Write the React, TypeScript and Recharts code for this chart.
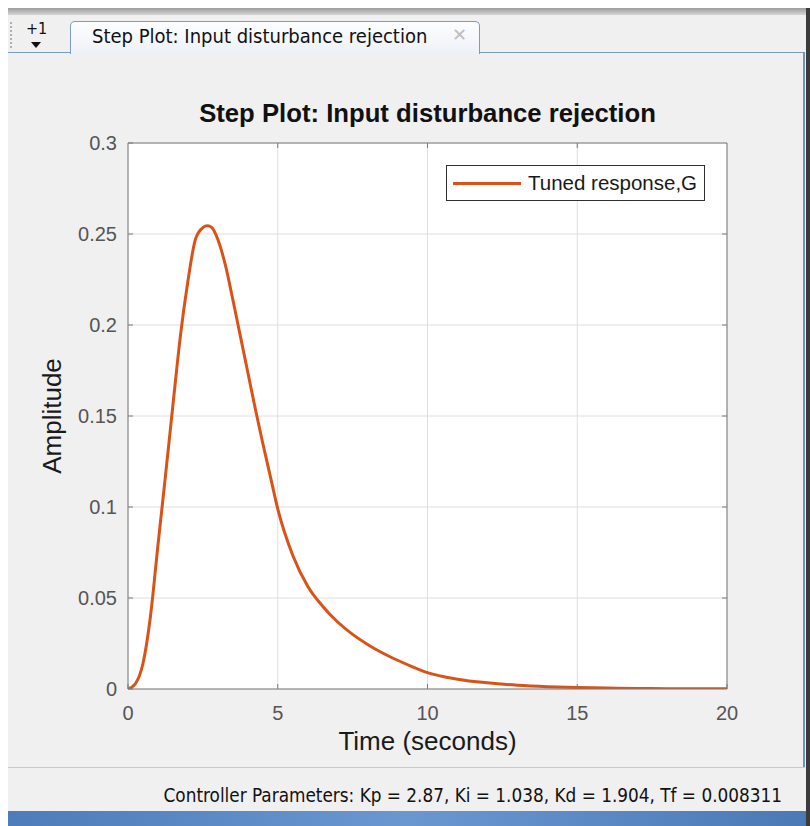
import React from 'react';
import { LineChart, Line, XAxis, YAxis, CartesianGrid, Legend, ReferenceLine } from 'recharts';

// step response
const timeValues = [
  0, 0.25, 0.5, 0.75, 1.0, 1.25, 1.5, 1.75, 2.0, 2.25, 2.5, 2.65, 2.8, 3.0, 3.25, 3.5, 3.75, 4.0,
  4.25, 4.5, 4.75, 5.0, 5.5, 6.0, 6.5, 7.0, 7.5, 8.0, 8.5, 9.0, 9.5, 10, 11, 12, 13, 14, 15, 16,
  17, 18, 19, 20,
];
const amplitudeValues = [
  0, 0.003, 0.014, 0.04, 0.079, 0.117, 0.156, 0.194, 0.224, 0.247, 0.2535, 0.2545, 0.2535, 0.247,
  0.233, 0.214, 0.194, 0.174, 0.154, 0.135, 0.117, 0.099, 0.0735, 0.0565, 0.0455, 0.0368, 0.03,
  0.0245, 0.0198, 0.0158, 0.0122, 0.009, 0.0054, 0.0034, 0.0021, 0.0013, 0.0008, 0.0005, 0.0003,
  0.0002, 0.0001, 0.0001,
];
const xTicks = [0, 5, 10, 15, 20];
const yTicks = [0, 0.05, 0.1, 0.15, 0.2, 0.25, 0.3];

const seriesName = 'Tuned response,G';
const chartTitle = 'Step Plot: Input disturbance rejection';
const statusText = 'Controller Parameters: Kp = 2.87, Ki = 1.038, Kd = 1.904, Tf = 0.008311';

const data = timeValues.map((t, i) => ({ t, y: amplitudeValues[i] }));

const X_MIN = 0;
const X_MAX = 20;
const Y_MIN = 0;
const Y_MAX = 0.3;

const ORANGE = '#d95319';
const AXIS = '#7a7a7a';
const GRID = '#dedede';
const FONT = '"Liberation Sans", Arial, sans-serif';
const NARROW = '"Liberation Sans Narrow", "DejaVu Sans Condensed", sans-serif';

const AmpLabel = (props: any) => {
  const vb = props.viewBox || { y: 143, height: 546 };
  const cx = 52;
  const cy = vb.y + vb.height / 2;
  return (
    <text
      x={cx}
      y={cy}
      transform={`rotate(-90 ${cx} ${cy})`}
      textAnchor="middle"
      dominantBaseline="central"
      fontSize={26}
      fontFamily={FONT}
      fill="#1a1a1a"
    >
      Amplitude
    </text>
  );
};

const LegendBox = () => (
  <div
    style={{
      width: 257,
      height: 34,
      border: '1px solid #303030',
      background: '#fff',
      display: 'flex',
      alignItems: 'center',
      fontFamily: FONT,
      fontSize: 20.5,
      color: '#1a1a1a',
    }}
  >
    <span style={{ display: 'inline-block', width: 68, height: 3, background: ORANGE, marginLeft: 6 }} />
    <span style={{ marginLeft: 7 }}>{seriesName}</span>
  </div>
);

// inward tick length in data units (about 5px)
const yTickLen = (Y_MAX - Y_MIN) * 5 / 546;
const xTickLen = (X_MAX - X_MIN) * 5 / 599;

const App: React.FC = () => {
  return (
    <div style={{ position: 'absolute', left: 0, top: 0, width: 810, height: 826, background: '#f0f0f0', overflow: 'hidden' }}>
      {/* window frame */}
      <div style={{ position: 'absolute', left: 0, top: 0, width: 810, height: 8, background: '#fff' }} />
      <div style={{ position: 'absolute', left: 0, top: 8, width: 8, height: 818, background: '#fff' }} />
      <div style={{ position: 'absolute', left: 8, top: 8, width: 798, height: 7, background: 'linear-gradient(#9c9c9c, #d6d6d6)' }} />
      <div style={{ position: 'absolute', left: 806, top: 8, width: 4, height: 818, background: '#3b3b3b' }} />
      <div style={{ position: 'absolute', left: 10, top: 22, width: 2, height: 26, borderLeft: '2px dotted #b0b0b0' }} />
      <div style={{ position: 'absolute', left: 26, top: 19, fontFamily: NARROW, fontSize: 16, color: '#111' }}>+1</div>
      <div style={{ position: 'absolute', left: 31, top: 42, width: 0, height: 0, borderLeft: '5px solid transparent', borderRight: '5px solid transparent', borderTop: '6px solid #111' }} />
      {/* tab */}
      <div
        style={{
          position: 'absolute',
          left: 70,
          top: 21,
          width: 408,
          height: 32,
          border: '1px solid #7b9bc4',
          borderBottom: 'none',
          borderRadius: '5px 5px 0 0',
          background: 'linear-gradient(#fcfdfe, #edf2f8)',
        }}
      />
      <div style={{ position: 'absolute', left: 92, top: 24, fontFamily: NARROW, fontSize: 20, color: '#111', whiteSpace: 'nowrap' }}>
        {chartTitle}
      </div>
      <div style={{ position: 'absolute', left: 452, top: 24, fontFamily: FONT, fontSize: 18, color: '#bdbdbd' }}>✕</div>
      <div style={{ position: 'absolute', left: 8, top: 52, width: 62, height: 1, background: '#7b9bc4' }} />
      <div style={{ position: 'absolute', left: 479, top: 52, width: 326, height: 1, background: '#7b9bc4' }} />
      <div style={{ position: 'absolute', left: 803, top: 52, width: 2, height: 716, background: '#6f94c4' }} />
      <div style={{ position: 'absolute', left: 8, top: 767, width: 797, height: 1, background: '#c8c8c8' }} />
      {/* status bar */}
      <div style={{ position: 'absolute', right: 28, top: 785, fontFamily: NARROW, fontSize: 18.8, color: '#111', whiteSpace: 'nowrap' }}>
        {statusText}
      </div>
      <div style={{ position: 'absolute', left: 8, top: 811, width: 798, height: 15, background: 'linear-gradient(90deg, #4d7cba, #6a97d0 50%, #4b79b6)' }} />
      {/* plot title */}
      <div
        style={{
          position: 'absolute',
          left: 128,
          top: 99,
          width: 599,
          textAlign: 'center',
          fontFamily: FONT,
          fontWeight: 'bold',
          fontSize: 25.7,
          color: '#111',
        }}
      >
        {chartTitle}
      </div>
      <div style={{ position: 'absolute', left: 0, top: 0 }}>
        <LineChart width={810} height={826} data={data} margin={{ top: 143, right: 83, bottom: 107, left: 68 }}>
          <CartesianGrid stroke={GRID} strokeWidth={1} verticalValues={xTicks} horizontalValues={yTicks} fill="#fff" />
          <XAxis
            dataKey="t"
            type="number"
            domain={[X_MIN, X_MAX]}
            ticks={xTicks}
            height={30}
            tickSize={-5}
            tickMargin={22}
            stroke={AXIS}
            tickLine={{ stroke: AXIS }}
            tick={{ fill: '#555', fontSize: 20, fontFamily: FONT }}
            label={{ value: 'Time (seconds)', position: 'bottom', offset: 13, fill: '#1a1a1a', fontSize: 26, fontFamily: FONT }}
          />
          <YAxis
            type="number"
            domain={[Y_MIN, Y_MAX]}
            ticks={yTicks}
            width={60}
            tickSize={-5}
            tickMargin={16}
            allowDataOverflow
            stroke={AXIS}
            tickLine={{ stroke: AXIS }}
            tick={{ fill: '#555', fontSize: 20, fontFamily: FONT }}
            tickFormatter={(v: number) => String(v)}
            label={<AmpLabel />}
          />
          {/* box: top and right edges, with inward ticks */}
          <ReferenceLine y={Y_MAX} stroke={AXIS} strokeWidth={1} />
          <ReferenceLine x={X_MAX} stroke={AXIS} strokeWidth={1} />
          {xTicks.slice(1, -1).map((t) => (
            <ReferenceLine
              key={`xt${t}`}
              segment={[{ x: t, y: Y_MAX }, { x: t, y: Y_MAX - yTickLen }]}
              stroke={AXIS}
            />
          ))}
          {yTicks.slice(1, -1).map((v) => (
            <ReferenceLine
              key={`yt${v}`}
              segment={[{ x: X_MAX, y: v }, { x: X_MAX - xTickLen, y: v }]}
              stroke={AXIS}
            />
          ))}
          <Legend
            layout="horizontal"
            align="center"
            verticalAlign="middle"
            content={<LegendBox />}
            wrapperStyle={{ position: 'absolute', top: 165, left: 446, width: 'auto' }}
          />
          <Line
            type="monotone"
            dataKey="y"
            name={seriesName}
            stroke={ORANGE}
            strokeWidth={3}
            dot={false}
            isAnimationActive={false}
          />
        </LineChart>
      </div>
    </div>
  );
};

export default App;
